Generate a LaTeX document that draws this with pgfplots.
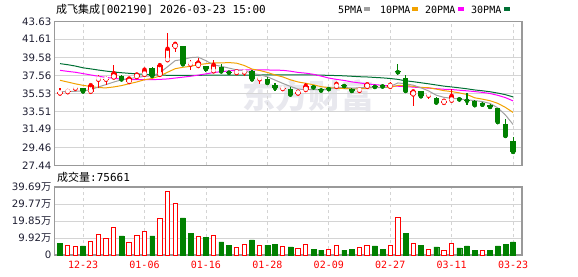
\documentclass[border=0pt]{standalone}
\usepackage{fontspec}
\usepackage{pgfplots}
\usepackage{pgfplotstable}
\pgfplotsset{compat=1.18}
\setmainfont{DejaVu Sans}
\newfontfamily\cjk{Noto Sans CJK SC}
\newfontfamily\mono{DejaVu Sans Mono}
\definecolor{kred}{RGB}{255,0,0}
\definecolor{kgreen}{RGB}{0,128,0}
\definecolor{mafive}{RGB}{160,160,160}
\definecolor{maten}{RGB}{242,162,0}
\definecolor{matwenty}{RGB}{255,0,255}
\definecolor{mathirty}{RGB}{0,112,52}
\definecolor{bordergray}{RGB}{153,153,153}
\definecolor{gridgray}{RGB}{212,212,212}
\definecolor{wm}{RGB}{232,232,238}
\definecolor{labc}{RGB}{30,30,50}

\pgfplotstableread{
i o h l c cu v vu
0 35.50 36.10 35.40 35.60 1 7.0 0
1 35.65 35.95 35.55 35.80 1 5.8 1
2 36.05 36.30 35.95 36.10 1 4.7 1
3 36.10 36.15 35.70 35.75 0 5.3 0
4 35.70 36.60 35.60 36.45 1 8.0 1
5 37.05 37.55 36.15 37.15 1 12.1 1
6 37.05 37.45 36.45 37.15 1 9.9 1
7 37.30 38.70 37.25 37.80 1 15.8 1
8 37.50 37.55 37.05 37.10 0 11.1 0
9 36.80 37.35 36.65 37.20 1 7.4 1
10 37.35 37.85 37.20 37.65 1 11.5 1
11 37.60 38.40 37.50 38.20 1 13.8 1
12 38.40 38.45 37.45 37.50 0 11.1 0
13 37.60 38.90 37.40 38.70 1 21.4 1
14 39.25 42.35 39.10 40.55 1 37.2 1
15 40.75 41.30 40.20 41.10 1 30.2 1
16 40.80 40.85 38.75 38.80 0 21.6 0
17 38.75 39.30 38.20 38.85 1 12.8 0
18 38.60 39.45 38.55 39.00 1 10.9 1
19 38.60 38.65 37.90 38.25 0 10.5 0
20 38.00 39.30 37.90 38.75 1 11.5 1
21 38.50 38.85 37.95 38.00 0 7.6 0
22 37.90 38.05 37.55 37.85 0 5.8 0
23 37.80 38.15 37.75 38.00 1 4.5 1
24 37.85 38.10 37.50 37.95 1 6.2 1
25 38.00 38.10 37.00 37.10 0 8.8 0
26 37.10 37.30 36.60 37.20 1 5.7 1
27 37.10 37.35 36.60 36.70 0 5.8 0
28 36.50 36.70 35.80 36.15 0 6.4 0
29 36.00 36.25 35.85 36.10 1 4.7 1
30 36.05 36.20 35.35 35.40 0 4.7 0
31 35.50 35.80 35.40 35.72 1 3.9 1
32 35.90 36.70 35.85 36.40 1 6.2 1
33 36.30 36.43 35.95 36.20 0 3.5 0
34 36.05 36.10 35.70 35.85 0 2.9 0
35 36.15 36.20 35.90 36.00 0 3.5 1
36 36.25 36.75 36.20 36.60 1 5.8 1
37 36.40 36.60 36.20 36.35 0 2.9 0
38 36.05 36.10 35.75 35.80 0 3.5 0
39 35.80 36.20 35.60 35.95 1 4.1 1
40 36.25 36.70 36.20 36.55 1 5.3 1
41 36.30 36.45 36.05 36.25 0 5.3 0
42 36.50 36.55 36.25 36.30 0 3.5 0
43 36.25 36.80 36.20 36.50 1 5.8 1
44 37.95 38.85 37.55 37.90 0 22.0 1
45 37.20 37.55 35.55 35.80 0 12.8 0
46 35.40 35.85 34.10 35.75 1 6.6 1
47 35.75 35.80 35.15 35.20 0 5.8 0
48 35.25 35.45 34.90 35.35 1 3.3 1
49 35.05 35.10 34.35 34.50 0 4.7 0
50 34.45 34.85 34.40 34.70 1 2.7 1
51 34.70 36.05 34.60 35.25 1 6.8 1
52 34.90 35.05 34.55 34.85 0 4.1 0
53 34.80 35.60 34.25 34.70 0 5.3 0
54 34.70 34.75 34.20 34.20 0 2.9 0
55 34.45 34.55 34.20 34.25 0 2.7 1
56 34.20 34.35 33.75 34.00 0 2.9 0
57 33.85 33.90 32.20 32.30 0 5.3 0
58 32.05 32.60 30.55 30.75 0 6.4 0
59 30.15 30.60 28.80 28.95 0 7.6 0
}\kdata

\pgfplotstableread{
i m5 m10 m20 m30
0 35.72 37.00 38.12 38.87
1 35.74 36.80 38.00 38.75
2 35.76 36.60 37.90 38.60
3 35.80 36.43 37.75 38.40
4 35.94 36.30 37.60 38.28
5 36.25 36.17 37.45 38.15
6 36.52 36.15 37.32 38.03
7 36.80 36.25 37.22 37.93
8 37.05 36.40 37.12 37.85
9 37.20 36.61 37.07 37.78
10 37.30 36.81 37.07 37.72
11 37.45 37.06 37.07 37.67
12 37.50 37.20 37.07 37.62
13 37.85 37.49 37.10 37.58
14 38.52 37.90 37.15 37.56
15 39.21 38.30 37.25 37.56
16 39.33 38.46 37.35 37.56
17 39.55 38.57 37.45 37.56
18 39.60 38.76 37.58 37.56
19 39.20 38.86 37.72 37.57
20 38.73 38.95 37.87 37.58
21 38.57 38.95 37.97 37.58
22 38.37 38.99 38.05 37.58
23 38.17 38.92 38.12 37.58
24 38.10 38.66 38.17 37.58
25 37.78 38.26 38.18 37.58
26 37.62 38.10 38.18 37.59
27 37.39 37.88 38.16 37.60
28 37.02 37.60 38.14 37.60
29 36.65 37.38 38.12 37.60
30 36.31 37.05 38.02 37.60
31 36.01 36.81 37.88 37.60
32 35.95 36.66 37.80 37.60
33 35.96 36.49 37.67 37.60
34 35.91 36.28 37.47 37.58
35 36.03 36.17 37.25 37.55
36 36.21 36.11 37.10 37.53
37 36.20 36.08 36.98 37.50
38 36.12 36.04 36.82 37.45
39 36.14 36.03 36.70 37.40
40 36.25 36.14 36.59 37.37
41 36.18 36.20 36.51 37.32
42 36.17 36.19 36.43 37.27
43 36.31 36.20 36.35 37.20
44 36.70 36.42 36.33 37.10
45 36.60 36.40 36.29 36.94
46 36.45 36.32 36.23 36.84
47 36.15 36.20 36.17 36.72
48 35.80 36.16 36.12 36.60
49 35.32 36.01 36.05 36.47
50 35.08 35.83 35.99 36.34
51 34.98 35.73 35.96 36.25
52 34.90 35.58 35.88 36.15
53 34.80 35.40 35.81 36.04
54 34.72 35.03 35.73 35.91
55 34.60 34.88 35.64 35.82
56 34.40 34.70 35.51 35.71
57 33.90 34.41 35.31 35.56
58 33.10 33.95 35.05 35.38
59 32.03 33.38 34.68 35.13
}\madata

\begin{document}
\begin{tikzpicture}
\useasboundingbox (0pt,0pt) rectangle (578pt,276pt);
% watermark
\node[font=\cjk\bfseries\fontsize{33}{33}\selectfont, text=wm, inner sep=0pt] at (308pt,180pt) {东方财富};
% title and legend
\node[anchor=west, inner sep=0pt, font=\fontsize{11}{13}\selectfont, text=black] at (56pt,266.5pt) {{\cjk 成飞集成}{\mono [002190] 2026-03-23 15:00}};
\node[anchor=west, inner sep=0pt, font=\mono\fontsize{10}{12}\selectfont] at (338pt,266.5pt) {5PMA};
\fill[mafive] (364pt,264.5pt) rectangle (370pt,268.5pt);
\node[anchor=west, inner sep=0pt, font=\mono\fontsize{10}{12}\selectfont] at (380pt,266.5pt) {10PMA};
\fill[maten] (411.5pt,264.5pt) rectangle (417.5pt,268.5pt);
\node[anchor=west, inner sep=0pt, font=\mono\fontsize{10}{12}\selectfont] at (425pt,266.5pt) {20PMA};
\fill[matwenty] (457.5pt,264.5pt) rectangle (463.5pt,268.5pt);
\node[anchor=west, inner sep=0pt, font=\mono\fontsize{10}{12}\selectfont] at (471pt,266.5pt) {30PMA};
\fill[mathirty] (504pt,264.5pt) rectangle (510pt,268.5pt);
\node[anchor=west, inner sep=0pt, font=\fontsize{11}{13}\selectfont] at (57pt,98.5pt) {{\cjk 成交量}{\mono :75661}};

\begin{axis}[
  at={(54.5pt,110.7pt)}, anchor=south west,
  scale only axis, width=467.5pt, height=144pt,
  xmin=-0.72, xmax=60.16, ymin=27.44, ymax=43.63,
  xtick={3,11,19,27,35,43,51,59}, xticklabels={},
  ytick={27.44,29.46,31.49,33.51,35.53,37.56,39.58,41.61,43.63},
  yticklabels={27.44,29.46,31.49,33.51,35.53,37.56,39.58,41.61,43.63},
  xmajorgrids, ymajorgrids,
  x grid style={gridgray, dash pattern=on 3pt off 3pt, line width=0.8pt},
  y grid style={gridgray, line width=0.8pt},
  major tick length=0pt,
  axis line style={bordergray, line width=1.2pt},
  yticklabel style={font=\fontsize{10.2}{12}\selectfont, text=labc, inner sep=0pt, xshift=-3pt},
]
\addplot[mathirty, line width=1pt, mark=none] table[x=i,y=m30]{\madata};
\addplot[matwenty, line width=1pt, mark=none] table[x=i,y=m20]{\madata};
\addplot[maten, line width=1pt, mark=none] table[x=i,y=m10]{\madata};
\addplot[mafive, line width=1pt, mark=none] table[x=i,y=m5]{\madata};
% up candles
\addplot[kred, only marks, mark=none, restrict expr to domain={\thisrow{cu}}{0.5:1.5},
  error bars/.cd, y dir=both, y explicit, error mark=none,
  error bar style={color=kred, line width=1.1pt}]
  table[x=i, y=c, y error plus expr={\thisrow{h}-\thisrow{c}}, y error minus expr={\thisrow{c}-\thisrow{l}}]{\kdata};
\addplot[kred, only marks, mark=none, restrict expr to domain={\thisrow{cu}}{0.5:1.5},
  error bars/.cd, y dir=both, y explicit, error mark=none,
  error bar style={color=kred, line width=5.6pt}]
  table[x=i, y=o, y error plus expr={max(\thisrow{c}-\thisrow{o},0.13)}, y error minus expr={0}]{\kdata};
\addplot[white, only marks, mark=none, restrict expr to domain={\thisrow{cu}}{0.5:1.5},
  error bars/.cd, y dir=both, y explicit, error mark=none,
  error bar style={color=white, line width=3.2pt}]
  table[x=i, y expr={\thisrow{o}+0.13}, y error plus expr={max(\thisrow{c}-\thisrow{o}-0.26,0)}, y error minus expr={0}]{\kdata};
% down candles
\addplot[kgreen, only marks, mark=none, restrict expr to domain={\thisrow{cu}}{-0.5:0.5},
  error bars/.cd, y dir=both, y explicit, error mark=none,
  error bar style={color=kgreen, line width=1.1pt}]
  table[x=i, y=c, y error plus expr={\thisrow{h}-\thisrow{c}}, y error minus expr={\thisrow{c}-\thisrow{l}}]{\kdata};
\addplot[kgreen, only marks, mark=none, restrict expr to domain={\thisrow{cu}}{-0.5:0.5},
  error bars/.cd, y dir=both, y explicit, error mark=none,
  error bar style={color=kgreen, line width=5.4pt}]
  table[x=i, y=c, y error plus expr={max(\thisrow{o}-\thisrow{c},0.13)}, y error minus expr={0}]{\kdata};
\end{axis}

\begin{axis}[
  at={(54.5pt,21pt)}, anchor=south west,
  scale only axis, width=467.5pt, height=68pt,
  xmin=-0.72, xmax=60.16, ymin=0, ymax=39.69,
  xtick={3,11,19,27,35,43,51,59},
  xticklabels={12-23,01-06,01-16,01-28,02-09,02-27,03-11,03-23},
  ytick={0,9.92,19.85,29.77,39.69},
  yticklabels={0,9.92{\cjk 万},19.85{\cjk 万},29.77{\cjk 万},39.69{\cjk 万}},
  xmajorgrids, ymajorgrids,
  x grid style={gridgray, dash pattern=on 3pt off 3pt, line width=0.8pt},
  y grid style={gridgray, line width=0.8pt},
  major tick length=0pt,
  axis line style={bordergray, line width=1.2pt},
  yticklabel style={font=\fontsize{10.2}{12}\selectfont, text=labc, inner sep=0pt, xshift=-3pt},
  xticklabel style={font=\mono\fontsize{10}{12}\selectfont, text=kred, inner sep=0pt, yshift=-6pt},
]
\addplot[ybar, bar width=4.4pt, bar shift=0pt, draw=kred, fill=white, line width=1pt,
  restrict expr to domain={\thisrow{vu}}{0.5:1.5}] table[x=i,y=v]{\kdata};
\addplot[ybar, bar width=4.8pt, bar shift=0pt, draw=kgreen, fill=kgreen, line width=0.4pt,
  restrict expr to domain={\thisrow{vu}}{-0.5:0.5}] table[x=i,y=v]{\kdata};
\end{axis}
\end{tikzpicture}
\end{document}
